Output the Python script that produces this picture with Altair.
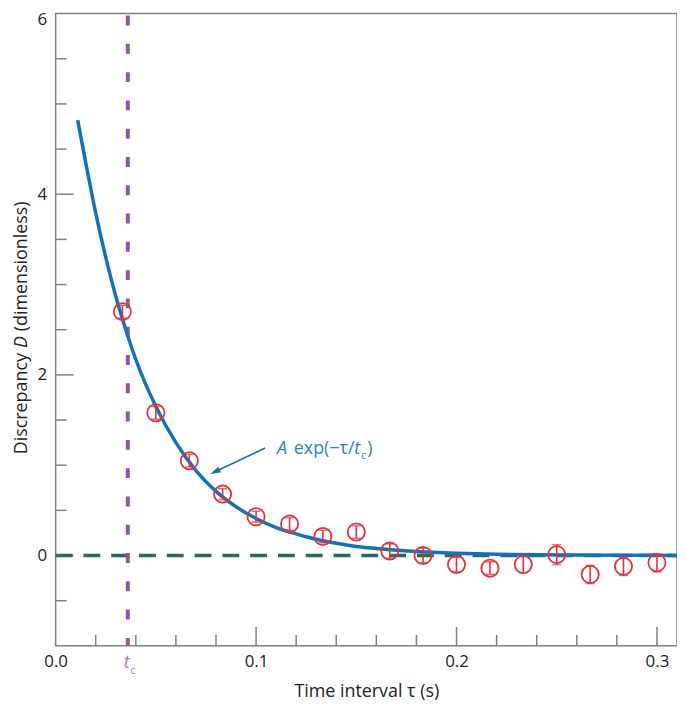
import altair as alt
import pandas as pd

# ---- data ----
tau = [0.0333, 0.05, 0.0667, 0.0833, 0.1, 0.1167, 0.1333, 0.15, 0.1667,
       0.1833, 0.2, 0.2167, 0.2333, 0.25, 0.2667, 0.2833, 0.3]
D = [2.70, 1.58, 1.05, 0.68, 0.43, 0.35, 0.21, 0.26, 0.05,
     0.00, -0.10, -0.14, -0.10, 0.01, -0.21, -0.12, -0.08]
D_err = [0.07, 0.07, 0.07, 0.06, 0.06, 0.07, 0.07, 0.07, 0.08,
         0.08, 0.08, 0.07, 0.09, 0.11, 0.10, 0.10, 0.10]

fit_tau = [0.011, 0.015, 0.02, 0.025, 0.03, 0.035, 0.04, 0.05, 0.06, 0.07,
           0.08, 0.09, 0.10, 0.11, 0.12, 0.13, 0.14, 0.15, 0.16, 0.18,
           0.20, 0.22, 0.25, 0.28, 0.31]
fit_D = [4.82, 4.35, 3.79, 3.30, 2.87, 2.50, 2.17, 1.65, 1.25, 0.94,
         0.71, 0.54, 0.41, 0.31, 0.24, 0.18, 0.135, 0.10, 0.078, 0.044,
         0.025, 0.014, 0.006, 0.003, 0.001]

t_c = 0.036

x_tick_labels = [0.0, 0.1, 0.2, 0.3]
y_tick_labels = [0, 2, 4, 6]
x_minor = [0.02, 0.04, 0.06, 0.08, 0.12, 0.14, 0.16, 0.18, 0.22, 0.24, 0.26, 0.28]
x_major = [0.1, 0.2, 0.3]
y_minor = [-0.5, 0.5, 1, 1.5, 2.5, 3, 3.5, 4.5, 5, 5.5]
y_major = [0, 2, 4]

# annotation (data coordinates)
arrow_tail = (0.1045, 1.19)
arrow_head = (0.0795, 0.927)
label_pos = (0.1104, 1.125)

W, H = 626, 637
BLUE = "#1570b7"
RED = "#e0323e"
GREEN = "#2b6a55"
PURPLE = "#9450b2"
PURPLE_LBL = "#a47ac4"
GREY = "#808080"
TXT = "#222222"
FONT = "Open Sans"

xscale = alt.Scale(domain=[0, 0.31], nice=False, zero=False)
yscale = alt.Scale(domain=[-1, 6], nice=False, zero=False)
xaxis = alt.Axis(values=x_tick_labels, format=".1f", ticks=False, domain=False,
                 grid=False, labelPadding=8, labelFontSize=17, labelFont=FONT,
                 labelColor=TXT, labelFlush=False,
                 title="Time interval τ (s)", titleFont=FONT,
                 titleFontSize=18, titleFontWeight="normal", titleColor=TXT,
                 titlePadding=13)
yaxis = alt.Axis(values=y_tick_labels, format="d", ticks=False, domain=False,
                 grid=False, labelPadding=9, labelFontSize=17, labelFont=FONT,
                 labelColor=TXT, labelFlush=True, labelFlushOffset=2, title=None)


def X(f):
    return alt.X(f, type="quantitative", scale=xscale, axis=xaxis)


def Y(f):
    return alt.Y(f, type="quantitative", scale=yscale, axis=yaxis)


pts = pd.DataFrame({"x": tau, "y": D,
                    "lo": [d - e for d, e in zip(D, D_err)],
                    "hi": [d + e for d, e in zip(D, D_err)]})
fit = pd.DataFrame({"x": fit_tau, "y": fit_D})

# inward ticks
xminor_df = pd.DataFrame({"x": x_minor})
xmajor_df = pd.DataFrame({"x": x_major})
yminor_df = pd.DataFrame({"y": y_minor})
ymajor_df = pd.DataFrame({"y": y_major})

tick_x_minor = alt.Chart(xminor_df).mark_rule(color=GREY, strokeWidth=1.5).encode(
    x=X("x"), y=alt.value(H), y2=alt.value(H - 11))
tick_x_major = alt.Chart(xmajor_df).mark_rule(color=GREY, strokeWidth=1.5).encode(
    x=X("x"), y=alt.value(H), y2=alt.value(H - 19))
tick_y_minor = alt.Chart(yminor_df).mark_rule(color=GREY, strokeWidth=1.5).encode(
    y=Y("y"), x=alt.value(0), x2=alt.value(11))
tick_y_major = alt.Chart(ymajor_df).mark_rule(color=GREY, strokeWidth=1.5).encode(
    y=Y("y"), x=alt.value(0), x2=alt.value(18))

zero_line = alt.Chart(pd.DataFrame({"y": [0]})).mark_rule(
    color=GREEN, strokeWidth=3.5, strokeDash=[17, 11]).encode(
    y=Y("y"), x=alt.value(0), x2=alt.value(W))

tc_line = alt.Chart(pd.DataFrame({"x": [t_c]})).mark_rule(
    color=PURPLE, strokeWidth=4, strokeDash=[10, 18.5], strokeDashOffset=-2).encode(
    x=X("x"), y=alt.value(0), y2=alt.value(H))

tc_t = alt.Chart(pd.DataFrame({"x": [t_c]})).mark_text(
    text="t", font=FONT, fontSize=18, fontStyle="italic", color=PURPLE_LBL,
    baseline="top", align="center", dx=-1).encode(x=X("x"), y=alt.value(H + 8))
tc_c = alt.Chart(pd.DataFrame({"x": [t_c]})).mark_text(
    text="c", font=FONT, fontSize=11, color=PURPLE_LBL,
    baseline="top", align="center", dx=5).encode(x=X("x"), y=alt.value(H + 19))

curve = alt.Chart(fit).mark_line(color=BLUE, strokeWidth=3.5,
                                 interpolate="monotone").encode(x=X("x"), y=Y("y"))

ebar = alt.Chart(pts).mark_rule(color=RED, strokeWidth=1.6).encode(
    x=X("x"), y=Y("lo"), y2="hi")
cap_lo = alt.Chart(pts).mark_tick(color=RED, orient="horizontal", size=9,
                                  thickness=1.6).encode(x=X("x"), y=Y("lo"))
cap_hi = alt.Chart(pts).mark_tick(color=RED, orient="horizontal", size=9,
                                  thickness=1.6).encode(x=X("x"), y=Y("hi"))
circles = alt.Chart(pts).mark_point(shape="circle", filled=False, color=RED,
                                    size=300, strokeWidth=1.8, opacity=1).encode(
    x=X("x"), y=Y("y"))

arrow_df = pd.DataFrame({"x": [arrow_tail[0]], "y": [arrow_tail[1]],
                         "x2": [arrow_head[0]], "y2": [arrow_head[1]]})
arrow_line = alt.Chart(arrow_df).mark_rule(color=BLUE, strokeWidth=1.6).encode(
    x=X("x"), y=Y("y"), x2="x2", y2="y2")
arrow_tip = alt.Chart(pd.DataFrame({"x": [arrow_head[0]], "y": [arrow_head[1]]})).mark_point(
    shape="M0,-1L0.6,1L-0.6,1Z", filled=True, color=BLUE, size=110, angle=245,
    opacity=1).encode(x=X("x"), y=Y("y"))

lab_df = pd.DataFrame({"x": [label_pos[0]], "y": [label_pos[1]]})
LBL_BLUE = "#1f84cc"


def lab(text, dx, dy=0, size=18, style="normal"):
    return alt.Chart(lab_df).mark_text(
        text=text, font=FONT, fontSize=size, fontStyle=style, color=LBL_BLUE,
        align="left", baseline="alphabetic", dx=dx, dy=dy).encode(x=X("x"), y=Y("y"))


label = (lab("A", 0, style="italic") + lab("exp(−τ/", 17) + lab("t", 78, style="italic")
         + lab("c", 85, dy=5, size=11) + lab(")", 91))

# y title composed with italic D
yt_df = pd.DataFrame({"k": [0]})


def ytitle(text, ypix, style="normal"):
    return alt.Chart(yt_df).mark_text(
        text=text, font=FONT, fontSize=18, fontStyle=style, color=TXT,
        angle=270, align="left", baseline="middle").encode(
        x=alt.value(-34), y=alt.value(ypix))


y_title = ytitle("Discrepancy", 444) + ytitle("D", 337, "italic") + ytitle("(dimensionless)", 320)

chart = alt.layer(
    tick_x_minor, tick_x_major, tick_y_minor, tick_y_major,
    zero_line, tc_line, curve, ebar, cap_lo, cap_hi, circles,
    arrow_line, arrow_tip, label, tc_t, tc_c, y_title
).properties(
    width=W, height=H,
    autosize=alt.AutoSizeParams(type="none"),
    padding={"left": 48, "top": 3, "right": 0, "bottom": 61},
).configure_view(stroke=GREY, strokeWidth=1.5)

chart.save("out.html", embed_options={"renderer": "svg", "actions": False})
